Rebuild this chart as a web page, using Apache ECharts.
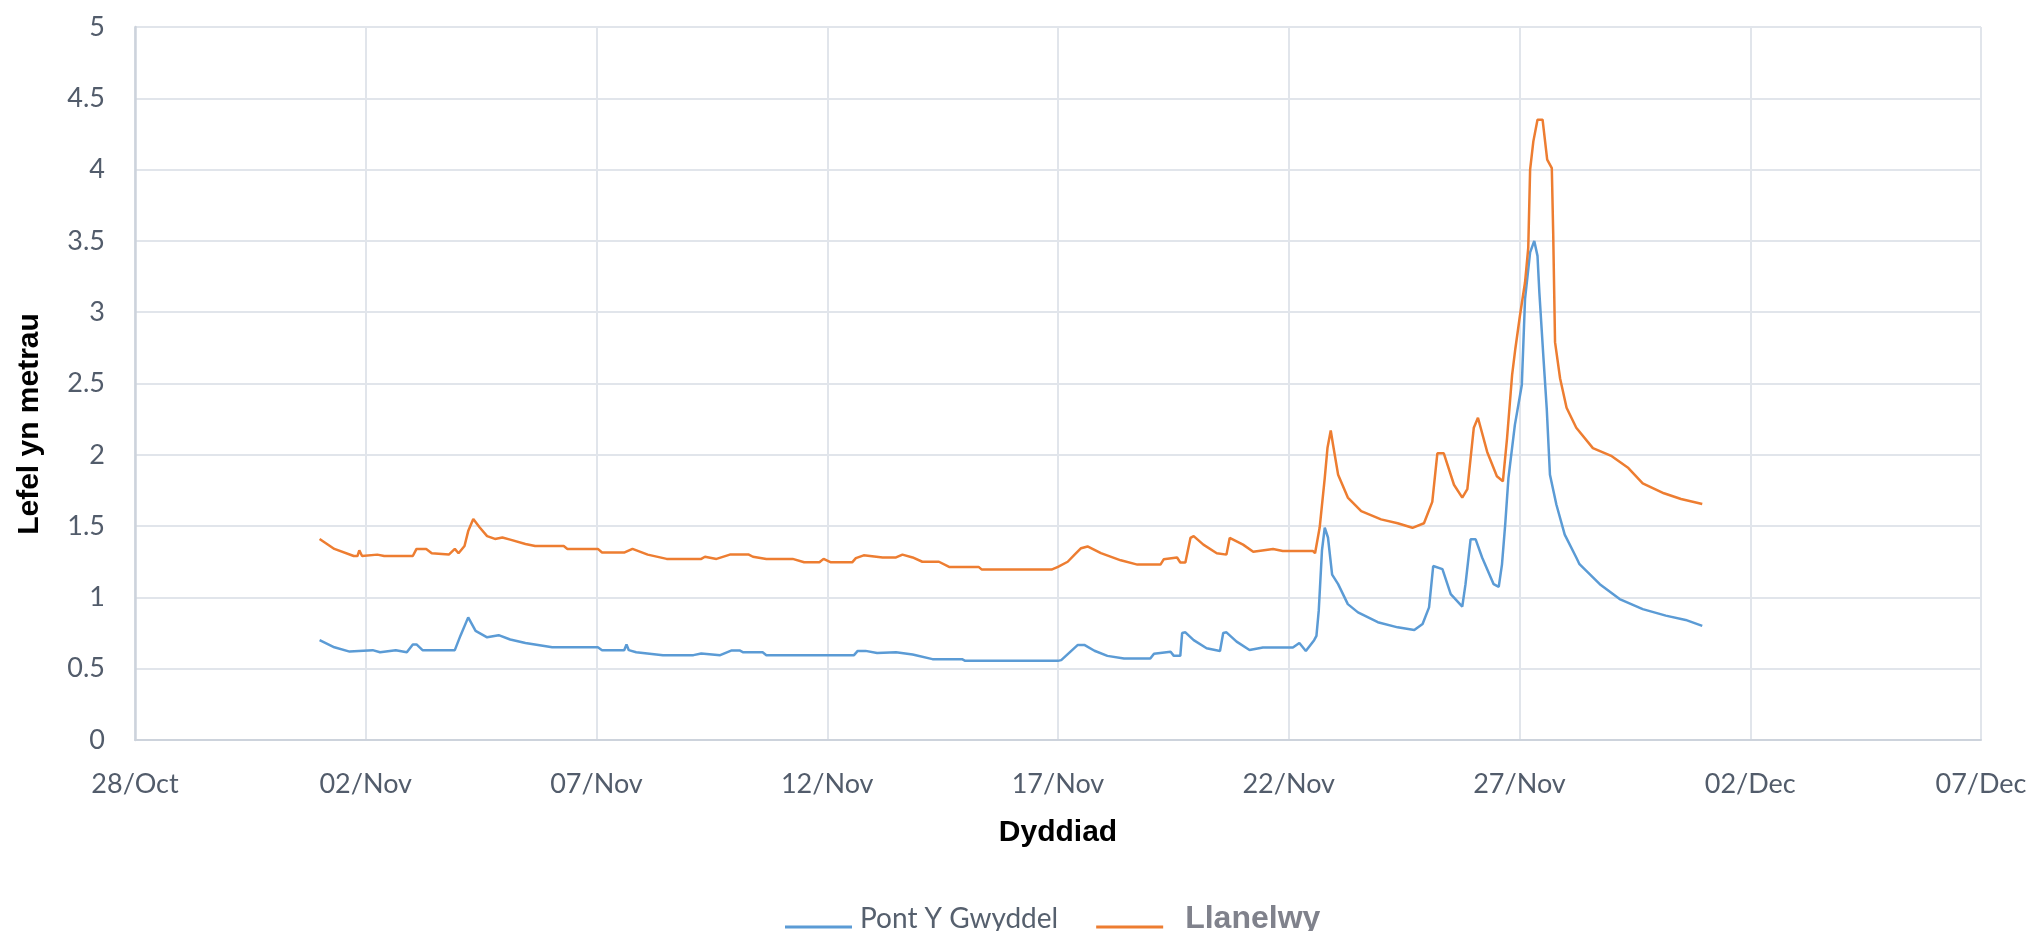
<!DOCTYPE html>
<html>
<head>
<meta charset="utf-8">
<title>Lefel yn metrau</title>
<script src="https://cdn.jsdelivr.net/npm/echarts@6/dist/echarts.min.js"></script>
<style>
    html, body { margin: 0; padding: 0; background: #ffffff; }
    #level_graph { width: 2033px; height: 931px; }
</style>
</head>
<body>
<div id="level_graph"></div>
<script>
let levelChart;

document.addEventListener("DOMContentLoaded", () => {
    drawLevelChart();
});

// x = days since 28/Oct 00:00
const xTickLabels = ["28/Oct", "02/Nov", "07/Nov", "12/Nov", "17/Nov", "22/Nov", "27/Nov", "02/Dec", "07/Dec"];
const yTicks = [0, 0.5, 1, 1.5, 2, 2.5, 3, 3.5, 4, 4.5, 5];

const seriesNames = ["Pont Y Gwyddel", "Llanelwy"];

const pontYGwyddel = [
    [4.0, 0.70], [4.32, 0.65], [4.65, 0.62], [5.15, 0.63], [5.31, 0.615], [5.65, 0.63], [5.89, 0.615],
    [6.02, 0.67], [6.1, 0.67], [6.23, 0.63], [6.93, 0.63], [7.05, 0.73], [7.22, 0.86], [7.38, 0.765],
    [7.63, 0.72], [7.88, 0.735], [8.13, 0.705], [8.46, 0.68], [9.04, 0.65], [10.03, 0.65], [10.12, 0.63],
    [10.6, 0.63], [10.65, 0.67], [10.7, 0.63], [10.86, 0.615], [11.44, 0.595], [12.1, 0.595], [12.27, 0.607],
    [12.68, 0.595], [12.93, 0.628], [13.1, 0.628], [13.18, 0.615], [13.6, 0.615], [13.68, 0.595],
    [15.58, 0.595], [15.66, 0.625], [15.83, 0.625], [16.08, 0.61], [16.49, 0.615], [16.85, 0.60],
    [17.28, 0.567], [17.92, 0.567], [17.99, 0.555], [20.0, 0.555], [20.07, 0.56], [20.43, 0.667],
    [20.57, 0.667], [20.79, 0.626], [21.07, 0.59], [21.43, 0.571], [22.0, 0.571], [22.08, 0.605],
    [22.44, 0.619], [22.51, 0.59], [22.65, 0.59], [22.69, 0.75], [22.76, 0.755], [22.94, 0.70],
    [23.22, 0.643], [23.51, 0.624], [23.58, 0.75], [23.65, 0.755], [23.87, 0.69], [24.15, 0.631],
    [24.44, 0.648], [25.09, 0.648], [25.23, 0.68], [25.37, 0.624], [25.55, 0.70], [25.6, 0.73],
    [25.65, 0.907], [25.72, 1.33], [25.78, 1.49], [25.85, 1.42], [25.94, 1.16], [26.07, 1.093],
    [26.28, 0.953], [26.5, 0.895], [26.93, 0.826], [27.36, 0.79], [27.72, 0.772], [27.9, 0.814],
    [28.04, 0.93], [28.13, 1.22], [28.33, 1.198], [28.51, 1.023], [28.76, 0.935], [28.83, 1.093],
    [28.94, 1.407], [29.05, 1.407], [29.19, 1.28], [29.44, 1.093], [29.55, 1.074], [29.62, 1.23],
    [29.69, 1.51], [29.76, 1.837], [29.9, 2.21], [30.05, 2.49], [30.12, 3.093], [30.23, 3.42],
    [30.32, 3.5], [30.39, 3.395], [30.43, 3.14], [30.52, 2.674], [30.59, 2.326], [30.66, 1.86],
    [30.8, 1.65], [30.98, 1.44], [31.23, 1.28], [31.3, 1.233], [31.74, 1.093], [32.17, 0.988],
    [32.67, 0.918], [33.17, 0.872], [33.6, 0.842], [33.96, 0.80]
];

const llanelwy = [
    [4.0, 1.41], [4.32, 1.34], [4.74, 1.29], [4.82, 1.29], [4.86, 1.33], [4.92, 1.29], [5.25, 1.30],
    [5.4, 1.29], [5.65, 1.29], [6.02, 1.29], [6.1, 1.34], [6.31, 1.34], [6.43, 1.31], [6.8, 1.30],
    [6.93, 1.34], [7.01, 1.31], [7.14, 1.36], [7.22, 1.465], [7.33, 1.55], [7.47, 1.49], [7.63, 1.43],
    [7.8, 1.41], [7.96, 1.42], [8.13, 1.405], [8.46, 1.375], [8.67, 1.36], [9.29, 1.36], [9.37, 1.34],
    [10.03, 1.34], [10.12, 1.315], [10.61, 1.315], [10.78, 1.34], [11.11, 1.30], [11.52, 1.27],
    [12.27, 1.27], [12.35, 1.285], [12.6, 1.27], [12.89, 1.30], [13.3, 1.30], [13.39, 1.285],
    [13.68, 1.27], [14.25, 1.27], [14.5, 1.246], [14.83, 1.246], [14.92, 1.27], [15.08, 1.246],
    [15.54, 1.246], [15.62, 1.275], [15.79, 1.295], [16.2, 1.28], [16.49, 1.28], [16.63, 1.30],
    [16.85, 1.28], [17.06, 1.25], [17.42, 1.25], [17.64, 1.214], [18.28, 1.214], [18.35, 1.195],
    [19.86, 1.195], [20.0, 1.214], [20.21, 1.25], [20.36, 1.30], [20.5, 1.345], [20.64, 1.357],
    [20.93, 1.31], [21.36, 1.26], [21.72, 1.23], [22.22, 1.23], [22.29, 1.267], [22.58, 1.28],
    [22.65, 1.245], [22.76, 1.245], [22.87, 1.417], [22.94, 1.43], [23.15, 1.37], [23.44, 1.31],
    [23.65, 1.30], [23.72, 1.417], [24.01, 1.37], [24.23, 1.32], [24.66, 1.34], [24.87, 1.326],
    [25.52, 1.326], [25.57, 1.31], [25.67, 1.49], [25.78, 1.837], [25.84, 2.05], [25.91, 2.17],
    [25.96, 2.07], [26.07, 1.86], [26.28, 1.70], [26.57, 1.605], [27.0, 1.547], [27.36, 1.52],
    [27.68, 1.488], [27.93, 1.52], [28.11, 1.67], [28.22, 2.01], [28.36, 2.01], [28.58, 1.79],
    [28.76, 1.70], [28.87, 1.76], [29.01, 2.19], [29.1, 2.26], [29.3, 2.02], [29.51, 1.85],
    [29.64, 1.814], [29.73, 2.116], [29.84, 2.56], [29.91, 2.744], [30.01, 2.977], [30.12, 3.21],
    [30.19, 3.453], [30.23, 4.0], [30.3, 4.198], [30.39, 4.35], [30.5, 4.35], [30.6, 4.07],
    [30.7, 4.01], [30.73, 3.558], [30.77, 2.79], [30.88, 2.535], [31.02, 2.33], [31.23, 2.19],
    [31.59, 2.047], [32.0, 1.99], [32.36, 1.907], [32.67, 1.80], [33.13, 1.73], [33.5, 1.69],
    [33.96, 1.655]
];

const seriesColors = ["#5b9bd5", "#ed7d31"];

const drawChart = () => {
    const option = {
        animation: false,
        backgroundColor: "#ffffff",
        grid: {
            left: 135,
            right: 52,
            top: 27,
            bottom: 191,
            outerBoundsMode: "none"
        },
        legend: {
            left: 780,
            top: 898,
            icon: "rect",
            itemWidth: 67,
            itemHeight: 3,
            itemGap: 38,
            data: seriesNames.map((name, i) => ({ name: name, itemStyle: { color: seriesColors[i], opacity: 1 } })),
            formatter: (name) => name === "Llanelwy" ? `{big|${name}}` : `{small|${name}}`,
            textStyle: {
                padding: [0, 0, 16, 0],
                rich: {
                    small: { fontFamily: "Lato", fontSize: 28, color: "#56606e", padding: [0, 0, 0, 3] },
                    big: { fontFamily: "Liberation Sans", fontWeight: "bold", fontSize: 32, color: "#80828c", padding: [0, 0, 0, 17] }
                }
            }
        },
        xAxis: {
            type: "value",
            min: 0,
            max: 40,
            interval: 5,
            name: "Dyddiad",
            nameLocation: "middle",
            nameGap: 78,
            nameTextStyle: { fontFamily: "Liberation Sans", fontWeight: "bold", fontSize: 30, color: "#000000" },
            axisLine: { lineStyle: { color: "#cdd3dc", width: 2 } },
            axisTick: { show: false },
            splitLine: { lineStyle: { color: "#e1e5eb", width: 2 } },
            axisLabel: {
                margin: 31,
                fontFamily: "Lato",
                fontSize: 27,
                color: "#525c6b",
                formatter: (value) => xTickLabels[Math.round(value / 5)]
            }
        },
        yAxis: {
            type: "value",
            min: yTicks[0],
            max: yTicks[yTicks.length - 1],
            interval: 0.5,
            axisLine: { show: true, lineStyle: { color: "#cdd3dc", width: 2.5 } },
            axisTick: { show: false },
            splitLine: { lineStyle: { color: "#e1e5eb", width: 2 } },
            axisLabel: {
                margin: 30,
                fontFamily: "Lato",
                fontSize: 27,
                color: "#525c6b"
            }
        },
        graphic: [{
            type: "text",
            x: 30,
            y: 424,
            rotation: Math.PI / 2,
            style: {
                text: "Lefel yn metrau",
                fontFamily: "Liberation Sans",
                fontWeight: "bold",
                fontSize: 30,
                fill: "#000000",
                align: "center",
                verticalAlign: "middle"
            }
        }],
        series: [pontYGwyddel, llanelwy].map((data, i) => ({
            name: seriesNames[i],
            type: "line",
            data: data,
            symbol: "none",
            showSymbol: false,
            color: seriesColors[i],
            itemStyle: { color: seriesColors[i] },
            lineStyle: { color: seriesColors[i], width: 2.5 }
        }))
    };

    levelChart.setOption(option);
};

const drawLevelChart = () => {
    const chartDom = document.getElementById("level_graph");
    levelChart = echarts.init(chartDom);
    drawChart();
};
</script>
</body>
</html>
